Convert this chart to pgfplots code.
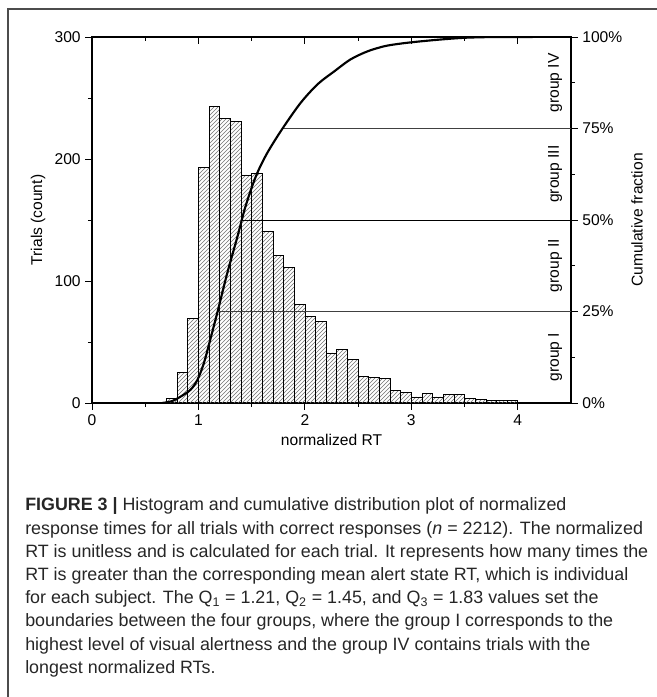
\documentclass[border=0pt]{standalone}
\usepackage{pgfplots}
\pgfplotsset{compat=1.18}
\usepackage{fontspec}
\setmainfont{Liberation Sans}
\usetikzlibrary{patterns}

% histogram: bin left edge, count (bin width 0.1)
\pgfplotstableread{
x     n
0.7   4
0.8   25
0.9   69
1.0   193
1.1   243
1.2   233
1.3   231
1.4   187
1.5   188
1.6   141
1.7   121
1.8   111
1.9   81
2.0   71
2.1   67
2.2   41
2.3   44
2.4   36
2.5   22
2.6   21
2.7   20
2.8   10
2.9   9
3.0   5
3.1   8
3.2   5
3.3   7
3.4   7
3.5   4
3.6   3
3.7   2
3.8   2
3.9   2
4.0   0
}\histdata

% cumulative fraction (%)
\pgfplotstableread{
x     c
0.66  0
0.75  0.5
0.83  1.7
0.925 3.6
0.99  6.3
1.05  10.8
1.11  17.2
1.18  25.0
1.27  35.4
1.365 45.3
1.43  52.5
1.49  58.0
1.555 63.0
1.65  68.5
1.79  75.0
1.96  82.0
2.12  87.1
2.28  90.7
2.43  93.9
2.59  96.1
2.75  97.5
2.90  98.2
3.05  98.7
3.27  99.3
3.51  99.8
3.80  100
4.14  100
}\cdfdata

\begin{document}
\begin{tikzpicture}[x=1pt,y=1pt]
\useasboundingbox (0,0) rectangle (492.75,522.75);
\draw[black!70, line width=0.8pt] (6,0) -- (6,516) -- (492.75,516);

\pgfplotsset{common/.style={
  at={(69pt,220.5pt)}, anchor=south west,
  scale only axis, width=359.25pt, height=274.5pt,
  xmin=0, xmax=4.5,
  font=\fontsize{11.7}{13}\selectfont,
  major tick length=5pt, minor tick length=3pt,
  every tick/.style={black, line width=0.7pt},
  every minor tick/.style={black, line width=0.7pt},
}}

\begin{axis}[common,
  ymin=0, ymax=300,
  xtick pos=left, ytick pos=left,
  tick align=outside,
  xtick={0,1,2,3,4}, xticklabels={0,1,2,3,4},
  minor xtick={0.5,1.5,2.5,3.5},
  ytick={0,100,200,300}, yticklabels={0,100,200,300},
  minor ytick={50,150,250},
  axis line style={line width=0.8pt},
  xlabel={normalized RT}, ylabel={Trials (count)},
]
\addplot[ybar interval, draw=black, line width=0.5pt,
  pattern=north east lines, pattern color=black!55] table[x=x, y=n] {\histdata};
\end{axis}

% top ticks, pointing inward
\begin{axis}[common,
  ymin=0, ymax=300,
  axis x line*=top, axis y line=none,
  tick align=inside,
  xtick={0,1,2,3,4}, xticklabels={},
  minor xtick={0.5,1.5,2.5,3.5},
  axis line style={line width=0.8pt},
]
\end{axis}

\begin{axis}[common,
  ymin=0, ymax=100,
  axis x line=none, axis y line*=right,
  tick align=outside,
  ytick={0,25,50,75,100}, yticklabels={0\%,25\%,50\%,75\%,100\%},
  minor ytick={12.5,37.5,62.5,87.5},
  axis line style={line width=0.8pt},
  ylabel={Cumulative fraction},
]
\addplot[black!75, line width=0.6pt] coordinates {(1.18,25) (4.5,25)};
\addplot[black, line width=0.7pt] coordinates {(1.41,50) (4.5,50)};
\addplot[black!75, line width=0.6pt] coordinates {(1.79,75) (4.5,75)};
\addplot[black, line width=1.6pt, smooth] table[x=x, y=c] {\cdfdata};
\node[rotate=90] at (axis cs:4.35,12.5) {group I};
\node[rotate=90] at (axis cs:4.35,37.5) {group II};
\node[rotate=90] at (axis cs:4.35,62.5) {group III};
\node[rotate=90] at (axis cs:4.35,87.5) {group IV};
\end{axis}

\begin{scope}[every node/.style={anchor=base west, inner sep=0pt,
    text=black!85, font=\fontsize{13.4}{15}\selectfont}]
\node at (18.75,139.5) {\textbf{FIGURE 3 |} Histogram and cumulative distribution plot of normalized};
\node at (18.75,122.1) {response times for all trials with correct responses (\textit{n} = 2212). The normalized};
\node at (18.75,104.7) {RT is unitless and is calculated for each trial. It represents how many times the};
\node at (18.75,87.3) {RT is greater than the corresponding mean alert state RT, which is individual};
\node at (18.75,69.9) {for each subject. The Q\textsubscript{1} = 1.21, Q\textsubscript{2} = 1.45, and Q\textsubscript{3} = 1.83 values set the};
\node at (18.75,52.5) {boundaries between the four groups, where the group I corresponds to the};
\node at (18.75,35.1) {highest level of visual alertness and the group IV contains trials with the};
\node at (18.75,17.7) {longest normalized RTs.};
\end{scope}
\end{tikzpicture}
\end{document}
